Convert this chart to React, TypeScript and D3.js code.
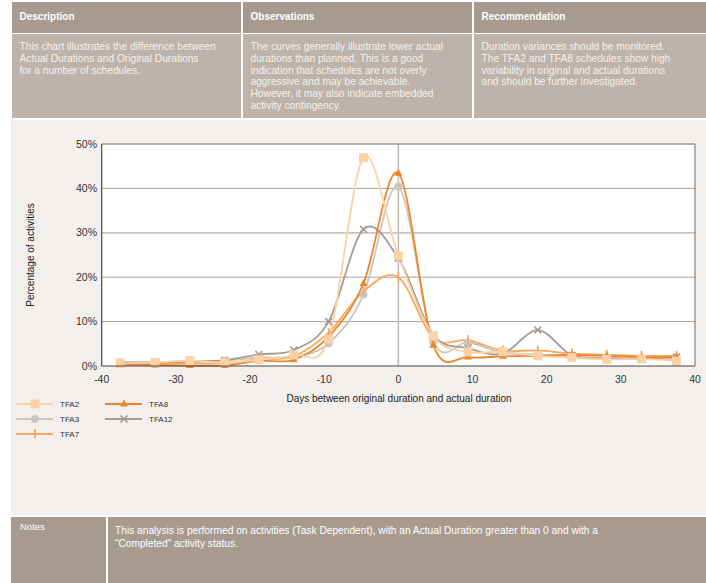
import React from "react";
import * as d3 from "d3";

const days = [-37.5, -32.8, -28.1, -23.4, -18.8, -14.1, -9.4, -4.7, 0, 4.7, 9.4, 14.1, 18.8, 23.4, 28.1, 32.8, 37.5];
const tfa2 = [0.6, 0.8, 1.2, 0.8, 1.4, 2.5, 6.1, 46.9, 24.8, 6.8, 3.2, 3.2, 2.3, 1.9, 1.5, 1.6, 1.1];
const tfa3 = [0.8, 0.8, 1.1, 1.2, 1.9, 2.1, 5.1, 16.1, 40.4, 5.6, 5.3, 3.0, 2.6, 2.2, 1.8, 1.6, 1.5];
const tfa7 = [0.5, 0.5, 0.6, 0.6, 1.5, 2.2, 7.5, 16.8, 20.0, 6.3, 5.8, 3.5, 3.5, 2.8, 2.5, 2.3, 2.3];
const tfa8 = [0.3, 0.2, 0.1, 0.1, 1.2, 1.4, 6.6, 18.6, 43.4, 4.7, 2.0, 2.2, 2.3, 2.5, 2.3, 2.0, 2.0];
const tfa12 = [0.8, 0.8, 1.0, 1.3, 2.6, 3.6, 10.0, 30.8, 24.3, 7.0, 4.0, 2.8, 8.1, 2.4, 1.7, 1.7, 2.0];

const seriesNames = ["TFA2", "TFA3", "TFA7", "TFA8", "TFA12"];
const seriesValues = [tfa2, tfa3, tfa7, tfa8, tfa12];
const seriesColors = ["#fbd2a6", "#cbc5c0", "#f7a85e", "#f08623", "#a59b92"];
const seriesMarkers = ["square", "circle", "tick", "triangle", "cross"];

const xTicks = [-40, -30, -20, -10, 0, 10, 20, 30, 40];
const yTicks = [0, 10, 20, 30, 40, 50];

const headerTitles = ["Description", "Observations", "Recommendation"];
const descLines = ["This chart illustrates the difference between", "Actual Durations and Original Durations", "for a number of schedules."];
const obsLines = ["The curves generally illustrate lower actual", "durations than planned. This is a good", "indication that schedules are not overly", "aggressive and may be achievable.", "However, it may also indicate embedded", "activity contingency."];
const recLines = ["Duration variances should be monitored.", "The TFA2 and TFA8 schedules show high", "variability in original and actual durations", "and should be further investigated."];
const notesLines = ["This analysis is performed on activities (Task Dependent), with an Actual Duration greater than 0 and with a", "\u201cCompleted\u201d activity status."];

const FONT = "'Liberation Sans', Arial, sans-serif";

function Marker({ type, x, y, color }: { type: string; x: number; y: number; color: string }) {
  if (type === "square") return <rect x={x - 4.5} y={y - 4.5} width={9} height={9} fill={color} />;
  if (type === "circle") return <circle cx={x} cy={y} r={4} fill={color} />;
  if (type === "triangle") return <path d={`M${x},${y - 4.5}L${x + 4},${y + 2.5}L${x - 4},${y + 2.5}Z`} fill={color} />;
  if (type === "tick") return <line x1={x} x2={x} y1={y - 5} y2={y + 4} stroke={color} strokeWidth={1.8} />;
  return (
    <g stroke={color} strokeWidth={1.6}>
      <line x1={x - 3.5} y1={y - 3.5} x2={x + 3.5} y2={y + 3.5} />
      <line x1={x - 3.5} y1={y + 3.5} x2={x + 3.5} y2={y - 3.5} />
    </g>
  );
}

export default function App() {
  const x = d3.scaleLinear().domain([-40, 40]).range([101.7, 695]);
  const y = d3.scaleLinear().domain([0, 50]).range([366, 144]);
  const line = d3
    .line<number>()
    .x((_, i) => x(days[i]))
    .y((v) => y(v))
    .curve(d3.curveCardinal.tension(0));

  const cols = [
    { x0: 12, x1: 241, lines: descLines },
    { x0: 243, x1: 472, lines: obsLines },
    { x0: 474, x1: 706, lines: recLines },
  ];

  const legendPos = [
    { lx: 16, ly: 404 },
    { lx: 16, ly: 419 },
    { lx: 16, ly: 434 },
    { lx: 105, ly: 404 },
    { lx: 105, ly: 419 },
  ];

  const drawOrder = [1, 2, 4, 3, 0];

  return (
    <div style={{ position: "absolute", left: 0, top: 0 }}>
      <svg width={706} height={583} style={{ display: "block", fontFamily: FONT }}>
        <rect x={0} y={0} width={706} height={583} fill="#ffffff" />
        {/* header */}
        {cols.map((c, i) => (
          <g key={i}>
            <rect x={c.x0} y={2} width={c.x1 - c.x0} height={31} fill="#a79b90" />
            <rect x={c.x0} y={34} width={c.x1 - c.x0} height={84} fill="#bdb3aa" />
            <text x={c.x0 + 7.5} y={16} dy="0.35em" fill="#ffffff" fontSize={10} fontWeight="bold">
              {headerTitles[i]}
            </text>
            {c.lines.map((t, j) => (
              <text key={j} x={c.x0 + 7.5} y={46.5 + j * 11.8} dy="0.35em" fill="#f6f1ec" fontSize={10.2}>
                {t}
              </text>
            ))}
          </g>
        ))}
        {/* body background */}
        <rect x={11} y={120} width={695} height={395} fill="#f3efec" />
        {/* plot area */}
        <rect x={x(-40)} y={y(50)} width={x(40) - x(-40)} height={y(0) - y(50)} fill="#ffffff" />
        {yTicks
          .filter((t) => t > 0 && t < 50)
          .map((t) => (
            <line
              key={t}
              x1={x(-40)}
              x2={x(40)}
              y1={y(t)}
              y2={y(t)}
              stroke={t === 30 ? "#c9c4bf" : "#aa9e94"}
              strokeWidth={t === 30 ? 1.8 : 1}
            />
          ))}
        <line x1={x(0)} x2={x(0)} y1={y(50)} y2={y(0)} stroke="#c2bcb6" strokeWidth={1.6} />
        {drawOrder.map((si) => (
          <path
            key={si}
            d={line(seriesValues[si]) || ""}
            fill="none"
            stroke={seriesColors[si]}
            strokeWidth={1.8}
          />
        ))}
        {drawOrder.map((si) => (
          <g key={si}>
            {seriesValues[si].map((v, i) => (
              <Marker key={i} type={seriesMarkers[si]} x={x(days[i])} y={y(v)} color={seriesColors[si]} />
            ))}
          </g>
        ))}
        {/* frame */}
        <line x1={x(-40)} x2={x(40)} y1={y(50)} y2={y(50)} stroke="#6e6a66" strokeWidth={1} />
        <line x1={x(40)} x2={x(40)} y1={y(50)} y2={y(0)} stroke="#6e6a66" strokeWidth={1} />
        <line x1={x(-40)} x2={x(-40)} y1={y(50)} y2={y(0)} stroke="#4a4744" strokeWidth={1.2} />
        <line x1={x(-40)} x2={x(40)} y1={y(0)} y2={y(0)} stroke="#4a4744" strokeWidth={1.2} />
        {/* axes labels */}
        {yTicks.map((t) => (
          <text key={t} x={97} y={y(t)} dy="0.35em" textAnchor="end" fontSize={10.5} fill="#333333">
            {t}%
          </text>
        ))}
        {xTicks.map((t) => (
          <text key={t} x={x(t)} y={379} dy="0.35em" textAnchor="middle" fontSize={10.5} fill="#333333">
            {t}
          </text>
        ))}
        <text
          transform="translate(30,255) rotate(-90)"
          textAnchor="middle"
          dy="0.35em"
          fontSize={10}
          fill="#222222"
        >
          Percentage of activities
        </text>
        <text x={399} y={398} dy="0.35em" textAnchor="middle" fontSize={10} fill="#222222">
          Days between original duration and actual duration
        </text>
        {/* legend */}
        {seriesNames.map((n, si) => {
          const p = legendPos[si];
          return (
            <g key={n}>
              <line x1={p.lx} x2={p.lx + 37} y1={p.ly} y2={p.ly} stroke={seriesColors[si]} strokeWidth={1.8} />
              <Marker type={seriesMarkers[si]} x={p.lx + 19} y={p.ly} color={seriesColors[si]} />
              <text x={p.lx + 44} y={p.ly} dy="0.35em" fontSize={8} fill="#333333">
                {n}
              </text>
            </g>
          );
        })}
        {/* notes */}
        <rect x={11} y={517} width={95} height={66} fill="#a79b90" />
        <rect x={108} y={517} width={598} height={66} fill="#a79b90" />
        <text x={20} y={527} dy="0.35em" fill="#ffffff" fontSize={9.5}>
          Notes
        </text>
        {notesLines.map((t, j) => (
          <text key={j} x={115} y={530.5 + j * 13} dy="0.35em" fill="#ffffff" fontSize={10.2}>
            {t}
          </text>
        ))}
      </svg>
    </div>
  );
}
